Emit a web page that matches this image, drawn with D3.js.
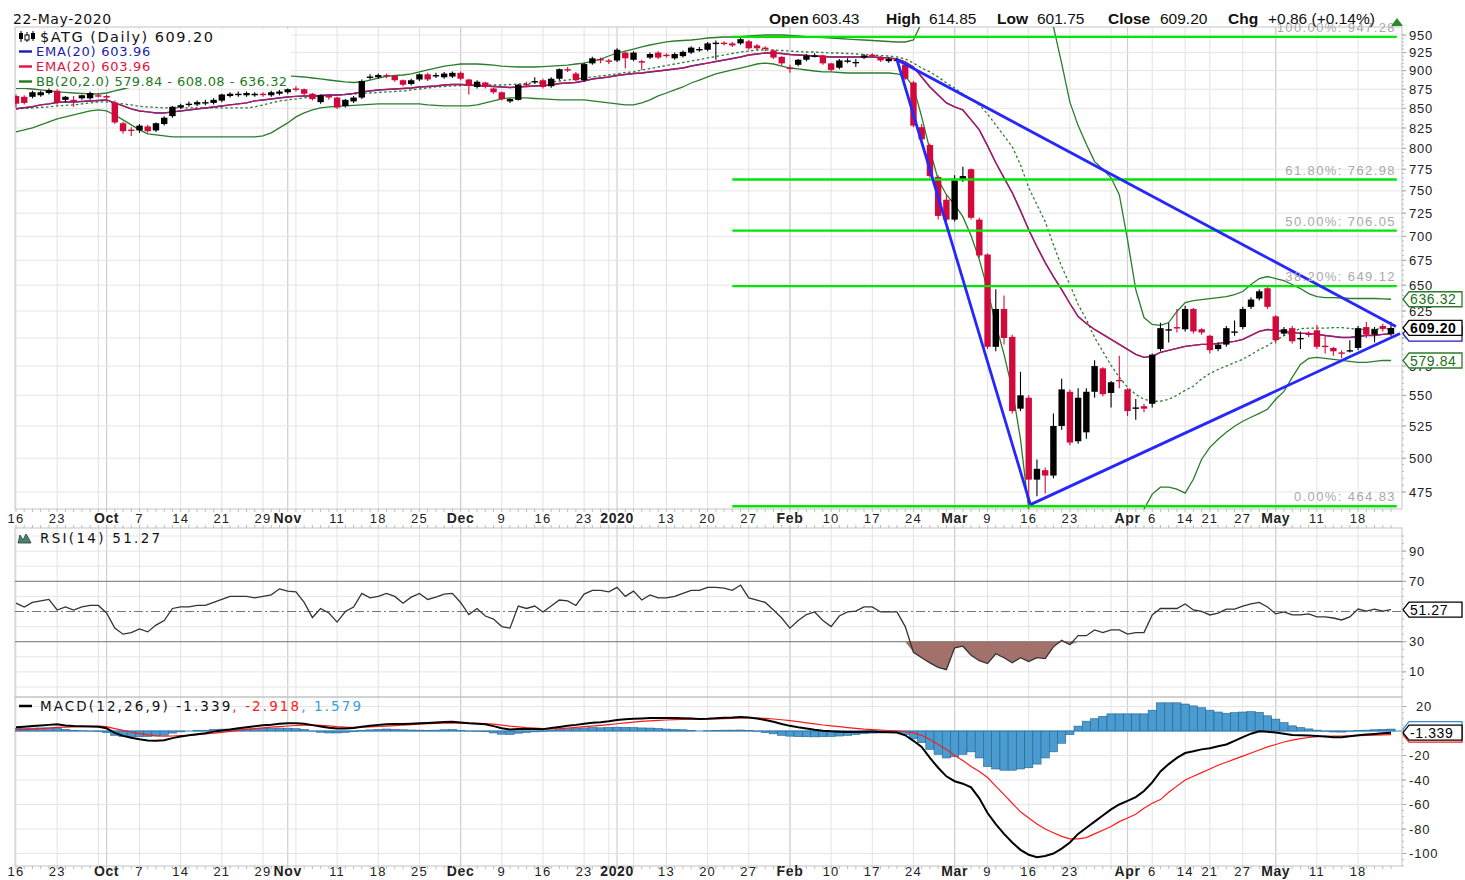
<!DOCTYPE html>
<html><head><meta charset="utf-8">
<script src="https://cdn.jsdelivr.net/npm/d3@7"></script>
<style>body{margin:0;background:#fff}svg{display:block}</style>
</head><body>
<svg id="chart" width="1465" height="880"></svg>
<script>
// ---------------- DATA ----------------
const firstDay = "2019-09-16", lastDay = "2020-05-22";
const holidays = ["2019-10-28","2019-12-25","2019-12-26","2019-12-31","2020-01-01","2020-01-06","2020-03-02","2020-04-10","2020-04-13","2020-04-17","2020-04-20","2020-05-01"];

const tickDates = ["2019-09-16","2019-09-23","2019-10-01","2019-10-07","2019-10-14","2019-10-21","2019-10-29","2019-11-01","2019-11-11","2019-11-18","2019-11-25","2019-12-02","2019-12-09","2019-12-16","2019-12-23","2020-01-02","2020-01-13","2020-01-20","2020-01-27","2020-02-03","2020-02-10","2020-02-17","2020-02-24","2020-03-03","2020-03-09","2020-03-16","2020-03-23","2020-04-01","2020-04-06","2020-04-14","2020-04-21","2020-04-27","2020-05-04","2020-05-11","2020-05-18"];
const tickLabels = ["16","23","Oct","7","14","21","29","Nov","11","18","25","Dec","9","16","23","2020","13","20","27","Feb","10","17","24","Mar","9","16","23","Apr","6","14","21","27","May","11","18"];
const boldLabels = ["Oct","Nov","Dec","2020","Feb","Mar","Apr","May"];

const opens = [866,865,865,867,870,873,861,861,863,863,
867,866,857,831,823,822,827,822,830,840,
851,855,855,857,857,860,866,868,867,867,
869,867,869,871,876,875,869,858,866,864,
853,859,864,891,891,894,893,887,882,888,
895,893,891,892,897,888,878,884,876,871,
859,861,882,885,887,879,889,902,896,887,
910,916,914,914,925,915,913,918,925,922,
917,920,925,929,929,938,939,938,938,941,
935,932,928,919,904,908,915,920,921,910,
904,913,911,918,922,918,913,914,908,884,
826,804,766,740,718,763,775,718,681,592,
627,601,539,548,484,491,487,525,553,513,
520,553,573,552,563,555,539,541,543,590,
607,610,608,627,608,602,590,594,605,610,
629,637,647,620,604,609,599,604,607,593,
591,587,588,591,610,603,611,603.43];
const highs = [868,867,873,873,876,875,866,866,868,872,
870,868,860,833,826,830,829,832,840,853,
856,859,860,861,863,869,871,872,872,871,
871,873,874,876,879,876,870,868,868,865,
862,866,888,895,896,896,894,888,889,896,
897,897,898,899,899,889,887,885,877,872,
863,882,885,891,889,891,903,905,898,911,
919,918,916,931,927,927,915,925,927,924,
925,928,934,933,940,942,941,940,947.28,943,
937,934,929,920,908,916,923,924,922,911,
916,917,916,923,924,920,918,917,910,886,
830,806,768,745,768,778,776,720,682,646,
640,603,570,550,499,493,535,564,555,556,
556,580,574,562,584,556,547,543,586,614,
614,627,630,628,609,603,596,611,616,629,
638,646,648,621,610,611,606,606,612,602,
592,589,598,611,615,610,613,614.85];
const lows = [851,855,863,865,868,855,858,852,861,861,
864,862,830,818,815,819,819,820,828,838,
849,852,853,854,855,858,864,865,865,865,
865,865,867,869,872,867,860,856,861,849,
851,857,862,888,889,890,885,879,880,886,
886,890,889,890,887,868,876,876,869,860,
857,860,878,883,876,877,887,898,885,885,
908,910,909,912,903,913,901,916,916,918,
915,918,923,926,927,915,935,933,936,929,
929,927,916,907,897,906,913,918,908,899,
902,910,905,916,918,912,911,912,887,826,
805,765,718,716,716,760,718,678,590,588,
594,535,537,464.83,472,474,485,522,510,511,
515,548,549,540,556,533,530,536,540,588,
596,605,606,604,603,586,588,592,602,608,
627,635,627,595,602,595,590,601,590,586,
584,582,587,589,600,596,606,601.75];
const closes = [856,857,871,871,874,857,865,860,867,870,
866,864,832,821,822,828,821,831,838,852,
854,856,858,858,861,868,869,869,870,869,
868,871,872,875,875,869,862,867,864,851,
861,864,886,892,894,893,887,881,887,895,
888,894,896,897,889,880,885,878,871,862,
862,881,881,886,878,889,902,901,887,909,
917,915,913,929,917,925,911,923,918,920,
923,926,932,930,938,939,938,935,944,931,
931,930,918,910,903,915,921,921,910,901,
914,914,912,921,921,914,916,915,889,828,
811,767,722,718,762,767,720,680,592,627,
600,537,550,484,492,487,525,555,512,548,
553,575,551,561,562,537,540,539,585,609,
608,609,627,606,605,589,594,609,606,627,
636,644,629,598,608,597,600,603,592,592,
588,586,589,609,603,608,608.34,609.20];

const ema20 = [849.5,850.8,852.1,854.4,855.7,857.6,858.3,858.3,858.9,859.6,
860.2,860.9,857.0,853.1,849.2,846.6,845.4,844.1,844.1,845.4,
846.6,847.9,849.2,850.5,851.8,853.1,854.4,855.7,857.0,859.6,
860.9,862.2,863.5,864.8,865.5,866.1,866.1,866.8,867.4,867.4,
868.1,869.4,871.4,872.7,874.0,874.7,875.3,876.0,876.6,878.0,
878.6,879.3,880.6,881.3,881.3,880.6,879.9,879.3,878.6,878.0,
877.3,878.0,878.6,879.3,879.9,880.6,882.6,883.3,884.0,886.0,
888.7,890.0,891.4,893.4,894.8,896.1,896.8,898.2,899.5,900.9,
902.3,903.6,906.3,908.4,910.4,912.5,914.6,916.7,918.9,921.6,
923.0,924.4,924.4,923.7,922.3,921.6,920.9,920.2,919.5,918.9,
918.9,918.9,918.9,918.9,918.9,918.2,917.4,916.0,911.9,905.0,
891.4,878.0,867.4,857.0,851.8,847.9,835.2,822.7,803.0,782.6,
765.0,747.9,727.8,707.1,689.1,672.7,658.6,645.7,632.2,619.8,
613.3,607.8,603.3,598.7,594.2,589.7,585.2,582.6,583.5,587.0,
588.8,590.6,592.4,593.3,594.2,594.2,595.1,596.0,596.9,598.7,
602.3,606.0,607.8,606.9,606.0,605.1,604.2,604.2,603.3,602.3,
601.4,600.5,600.5,601.4,602.3,602.3,603.3,603.96];

const bbMiddle = [849.2,849.9,850.5,851.2,851.8,853.1,853.8,854.4,855.7,857.0,
858.3,858.3,857.0,855.7,854.4,852.5,851.8,851.2,850.5,850.5,
850.5,850.5,850.5,850.5,850.5,850.5,850.5,850.5,850.5,851.8,
854.4,857.0,859.6,860.9,862.2,863.5,864.8,866.1,866.8,867.4,
868.1,868.7,869.4,870.0,870.7,871.4,872.0,872.7,874.0,875.3,
876.6,878.0,878.6,879.3,879.9,880.6,880.6,880.6,880.6,880.6,
881.3,881.9,882.6,883.3,884.0,884.7,886.0,887.3,888.7,890.0,
891.4,892.8,894.1,895.5,897.5,898.2,900.9,902.9,905.0,907.0,
909.1,911.2,913.2,915.3,917.5,919.5,921.6,923.7,925.8,927.2,
928.6,928.6,928.6,927.9,927.2,926.5,925.8,925.8,925.1,924.4,
924.4,923.7,923.0,922.3,921.6,920.9,920.2,918.9,916.0,910.4,
903.6,898.2,891.4,883.3,876.6,868.7,862.2,854.4,842.8,828.9,
815.3,801.8,780.3,753.6,734.4,715.8,691.2,668.6,650.6,631.2,
617.0,600.5,587.9,575.6,565.2,556.7,550.8,546.7,545.1,545.1,
546.7,550.0,554.2,557.6,564.0,568.5,572.0,575.0,578.0,581.0,
585.0,589.5,593.0,598.0,602.0,605.5,608.5,609.0,609.0,609.0,
609.5,609.6,608.7,607.8,607.8,607.8,608.7,608.08];

const bbUpper = [876.0,876.0,875.3,874.0,872.7,871.4,870.7,870.0,869.4,868.7,
868.7,870.0,872.7,875.3,878.0,880.6,883.3,884.7,886.0,886.6,
887.3,887.3,887.3,887.3,887.3,887.3,888.0,888.7,889.4,890.0,
890.7,891.4,892.1,892.8,892.1,891.4,890.0,888.7,887.3,886.0,
884.7,884.0,884.7,887.3,890.0,892.1,893.4,894.1,895.5,898.2,
900.9,903.6,906.3,907.7,909.1,909.1,909.1,908.4,907.7,906.3,
905.6,905.0,905.0,905.0,905.6,906.3,907.0,907.7,909.1,910.4,
913.2,916.0,920.2,924.4,927.2,930.0,932.9,935.7,937.9,940.0,
941.4,942.1,942.8,944.2,945.7,946.4,947.1,947.1,947.8,948.6,
949.3,950.0,950.0,950.0,949.3,948.6,947.8,947.1,946.4,945.7,
945.0,944.2,943.5,942.8,942.1,941.4,940.7,940.0,940.0,943.0,
968,998,1020,1021,1019,1016,1024,1033,1040,1045,
1045,1049,1046,1044,1027,1003,962,910,858,828,
805,784,775,765,745.6,696.5,645.7,618.9,612.4,611.5,
614.2,624.6,633.1,635.0,636.0,637.0,637.9,638.9,640.8,643.8,
650.7,656.6,658.6,656.6,654.6,650.7,646.7,641.8,638.9,637.9,
637.9,637.5,637.0,637.0,637.0,637.0,636.6,636.32];

const bbLower = [820.2,822.7,825.2,828.9,832.7,836.4,839.0,841.5,844.1,846.6,
847.9,846.6,841.5,835.2,828.9,822.7,817.7,816.5,815.3,814.0,
814.0,814.0,814.0,814.0,814.0,814.0,814.0,814.0,814.0,814.0,
815.3,819.0,825.2,831.4,839.0,844.1,847.9,850.5,851.8,852.5,
853.1,853.8,854.4,855.0,855.7,855.7,855.7,855.7,855.7,855.7,
854.4,853.8,853.1,853.1,853.1,853.1,854.4,857.0,859.6,862.2,
863.5,863.5,863.5,862.8,862.2,861.5,860.9,860.9,860.9,860.9,
859.6,858.3,857.0,855.7,854.4,854.4,857.0,860.9,866.1,870.0,
874.0,878.0,883.3,887.3,891.4,895.5,898.2,900.9,903.6,906.3,
909.1,910.4,909.1,906.3,903.6,902.3,900.9,899.5,898.2,898.2,
897.5,896.8,896.8,896.8,896.8,896.8,896.8,895.5,892.8,878.0,
839.0,798.2,762.7,745.6,734.4,721.2,700.7,675.7,645.7,612.4,
585.2,555.0,514.6,462.8,442,429,420,414,411,411,
414,418,423,429,437,445.3,454.5,462.8,473.5,478.5,
478.5,477.1,474.2,484.3,499.2,508.3,514.6,520.1,524.8,528.8,
532.0,535.2,538.5,546.7,553.3,565.2,576.4,581.7,582.6,581.7,
580.8,579.9,579.0,578.2,578.2,579.0,579.9,579.84];

const rsi14 = [55.6,53,56,57,58,51,53,51,53,54,
54,49,39,35,36,38.5,36.5,41,44,52,
53,53,54,54,56,58,60,60,60,59,
60,61,65,63.5,63,56,46,52,49,43,
50,53,62,59,60,62,60,55.5,59.5,62,
58,59.5,61.5,62,56,48,52,47,45,40,
39,53.6,52,53.6,49.7,53.6,57.6,57,54,61.5,
64,64,63,66,60,63.5,57.6,61,59,59,
60,62,64,64,66,66,65.5,64,67.5,59,
57.6,56,51,45.7,39,44,48,49.7,44,40,
47,49.7,50.3,53,53,49.7,49.7,49.7,40,23,
19.4,16,13,11.5,26,27,21,17.4,15.5,22,
19.4,16,19.4,16.8,19.4,18.8,26.6,31,28,34,
34,37.8,36,37.8,37.8,35,36,36,47.7,52,
52,52,55,51,50,47.7,49,51.6,51.6,53.6,
55,56,53,48.4,49.7,47.7,47.7,48.4,46.4,46.4,
45.7,44.4,46.4,51.6,50.3,51.6,50.3,51.27];

const macdLine = [3.0,3.5,4.0,4.5,5.0,5.5,4.5,4.0,3.8,3.7,
3.5,2.2,-1.5,-4.0,-5.5,-6.8,-7.7,-7.9,-7.6,-5.8,
-4.5,-3.5,-2.7,-1.8,-0.5,0.4,1.2,2.2,3.0,3.8,
4.7,5.2,6.0,6.4,6.4,6.0,4.8,3.6,2.6,2.0,
2.1,2.4,3.5,4.3,5.0,5.6,5.8,5.8,6.0,6.3,
6.6,7.0,7.4,7.6,7.0,6.3,5.9,5.5,4.0,2.2,
1.2,1.6,1.7,1.7,1.5,2.5,3.3,4.2,5.0,6.0,
6.8,7.2,8.0,9.0,9.5,10.0,10.3,10.6,10.6,10.6,
10.6,10.5,10.2,9.8,10.0,10.4,10.8,11.0,11.4,11.0,
10.2,9.0,7.5,5.7,4.2,3.0,2.0,1.0,0.2,-0.3,
-0.6,-0.8,-0.8,-0.6,-0.5,-0.8,-1.0,-1.3,-3.5,-8,
-13,-22,-30,-37,-41,-43,-46,-55,-67,-76,
-84,-91,-97,-101,-103,-102,-100,-96,-91,-84,
-79,-74,-69,-64,-60,-57,-54,-49,-42,-33,
-27,-22,-18,-16.5,-15,-14,-12.5,-11,-8,-5,
-2.2,-0.2,-0.6,-1.3,-2.2,-3.3,-3.4,-3.6,-4.0,-4.5,
-5.0,-5.0,-4.3,-3.4,-2.9,-2.4,-1.9,-1.339];

const macdSignal = [0.8,1.2,1.6,2.0,2.4,3.0,3.2,3.4,3.6,3.8,
4.0,3.5,2.0,0.5,-1.0,-2.2,-3.2,-3.9,-4.2,-4.1,
-3.8,-3.5,-3.0,-2.4,-1.7,-1.1,-0.3,0.5,1.3,2.0,
2.6,3.1,3.6,4.1,4.5,4.8,4.9,4.6,4.2,3.6,
3.2,3.0,3.1,3.4,3.7,4.0,4.4,4.8,5.2,5.6,
6.0,6.3,6.4,6.5,6.5,6.4,6.3,6.1,5.6,4.8,
4.0,3.4,2.8,2.4,2.0,1.8,2.0,2.4,2.9,3.5,
4.0,4.6,5.2,5.9,6.6,7.2,7.8,8.2,8.6,9.0,
9.3,9.5,9.7,9.8,9.8,9.9,10.1,10.3,10.6,10.6,
10.5,10.3,9.8,9.2,8.4,7.6,6.7,5.8,4.9,4.2,
3.5,2.8,2.2,1.6,1.2,0.8,0.4,0.0,-0.6,-1.6,
-3.5,-7,-11,-15,-20,-24,-29,-33,-38,-45,
-52,-59,-66,-71,-76,-80,-83,-86,-88,-88,
-87,-84,-81,-78,-74,-71,-68,-63,-59,-56,
-50,-45,-40,-37,-34,-31,-28,-25.5,-23,-20.5,
-18,-15.5,-13,-11,-9,-7.5,-6.2,-5.3,-4.7,-4.3,
-4.2,-4.1,-4.0,-3.8,-3.6,-3.4,-3.2,-2.918];

const fibPercents = ["100.00%","61.80%","50.00%","38.20%","0.00%"];
const fibValues = [947.28, 762.98, 706.05, 649.12, 464.83];
const fibStartDay = 87;
const fibEndDay = 167.7;
const trendLines = [
  [[107, 915], [123.2, 466]],
  [[107, 915], [167.6, 610.5]],
  [[123.2, 466], [168.1, 604]]
];
const priceTicks = [475,500,525,550,575,600,625,650,675,700,725,750,775,800,825,850,875,900,925,950];
const hiddenPriceLabels = [600];   // covered by the last-close tag in the reference
const rsiTicks = [10,30,70,90];
const macdTicks = [20,-20,-40,-60,-80,-100];

// ---------------- HELPERS ----------------
function tradingDays(a, b, hol) {
  const hs = new Set(hol), out = [];
  const d = new Date(a + "T12:00:00Z"), e = new Date(b + "T12:00:00Z");
  for (; d <= e; d.setUTCDate(d.getUTCDate() + 1)) {
    const wd = d.getUTCDay();
    if (wd === 0 || wd === 6) continue;
    const s = d.toISOString().slice(0, 10);
    if (!hs.has(s)) out.push(s);
  }
  return out;
}
const dates = tradingDays(firstDay, lastDay, holidays);
const n = dates.length;
const idx = Object.fromEntries(dates.map((d, i) => [d, i]));
const hist = macdLine.map((m, i) => m - macdSignal[i]);

// ---------------- LAYOUT ----------------
const svg = d3.select("#chart");
const L = 15, R = 1402;
const P = {top: 27, bottom: 509}, RS = {top: 528, bottom: 697}, MC = {top: 697, bottom: 866};
const x = d3.scaleLinear().domain([0, n - 1]).range([16, 1391]);
const yP = d3.scaleLog().domain([475, 950]).range([492, 35]);
const yR = d3.scaleLinear().domain([0, 100]).range([687, 536]);
const yM = d3.scaleLinear().domain([20, -100]).range([706.5, 853.5]);
const RED = "#d20a3c", BLUE = "#1a1ab0", GREEN = "#2a7d2a", FIB = "#00e600", TREND = "#2626ff";
const SANS = "'Liberation Sans', Arial, sans-serif", VER = "'DejaVu Sans', Verdana, sans-serif";

const defs = svg.append("defs");
[["cm", P], ["cr", RS], ["cmc", MC]].forEach(([id, p]) => {
  defs.append("clipPath").attr("id", id).append("rect")
    .attr("x", L).attr("y", p.top).attr("width", R - L).attr("height", p.bottom - p.top);
});

const weekStarts = [], monthStarts = [];
dates.forEach((d, i) => {
  const dt = new Date(d + "T12:00:00Z");
  if (i === 0) { weekStarts.push(i); return; }
  const prev = new Date(dates[i - 1] + "T12:00:00Z");
  if ((dt - prev) / 864e5 > 1 && (dt.getUTCDay() <= prev.getUTCDay() || (dt - prev) / 864e5 >= 7)) weekStarts.push(i);
  if (dt.getUTCMonth() !== prev.getUTCMonth()) monthStarts.push(i);
});

const grid = svg.append("g");
[P, RS, MC].forEach(p => {
  grid.selectAll(null).data(weekStarts).join("line")
    .attr("x1", i => x(i)).attr("x2", i => x(i)).attr("y1", p.top).attr("y2", p.bottom)
    .attr("stroke", "#e3e3e3").attr("stroke-width", 1);
  grid.selectAll(null).data(monthStarts).join("line")
    .attr("x1", i => x(i)).attr("x2", i => x(i)).attr("y1", p.top).attr("y2", p.bottom)
    .attr("stroke", "#cfcfcf").attr("stroke-width", 1.2);
});
grid.selectAll(null).data(priceTicks).join("line")
  .attr("x1", L).attr("x2", R).attr("y1", d => yP(d)).attr("y2", d => yP(d))
  .attr("stroke", "#e5e5e5");
grid.selectAll(null).data(d3.range(0, 101, 10).filter(v => v !== 30 && v !== 70 && v !== 50)).join("line")
  .attr("x1", L).attr("x2", R).attr("y1", d => yR(d)).attr("y2", d => yR(d)).attr("stroke", "#e5e5e5");
grid.selectAll(null).data([20, -20, -40, -60, -80, -100]).join("line")
  .attr("x1", L).attr("x2", R).attr("y1", d => yM(d)).attr("y2", d => yM(d)).attr("stroke", "#e5e5e5");

[P, RS, MC].forEach(p => svg.append("rect").attr("x", L).attr("y", p.top).attr("width", R - L)
  .attr("height", p.bottom - p.top).attr("fill", "none").attr("stroke", "#c4c4c4"));

// ---------------- MAIN PANEL ----------------
const gm = svg.append("g").attr("clip-path", "url(#cm)");
const lineP = arr => d3.line().x((d, i) => x(i)).y(d => yP(d))(arr);
gm.append("path").attr("d", lineP(bbUpper)).attr("fill", "none").attr("stroke", GREEN).attr("stroke-width", 1.3);
gm.append("path").attr("d", lineP(bbLower)).attr("fill", "none").attr("stroke", GREEN).attr("stroke-width", 1.3);
gm.append("path").attr("d", lineP(bbMiddle)).attr("fill", "none").attr("stroke", GREEN).attr("stroke-width", 1.3).attr("stroke-dasharray", "2.5,2.5");
gm.append("path").attr("d", lineP(ema20)).attr("fill", "none").attr("stroke", BLUE).attr("stroke-width", 1.4);
gm.append("path").attr("d", lineP(ema20)).attr("fill", "none").attr("stroke", "#d0184c").attr("stroke-width", 1.3).attr("opacity", 0.85);

const candles = gm.append("g");
const bw = 6.4;
dates.forEach((d, i) => {
  const o = opens[i], c = closes[i], h = highs[i], l = lows[i];
  const col = c >= o ? "#000" : RED;
  candles.append("line").attr("x1", x(i)).attr("x2", x(i)).attr("y1", yP(h)).attr("y2", yP(l))
    .attr("stroke", col).attr("stroke-width", 1.1);
  const yt = yP(Math.max(o, c)), yb = yP(Math.min(o, c));
  candles.append("rect").attr("x", x(i) - bw / 2).attr("y", yt).attr("width", bw)
    .attr("height", Math.max(1.4, yb - yt)).attr("fill", col);
});

const fibG = svg.append("g").attr("clip-path", "url(#cm)");
fibValues.forEach(v => {
  fibG.append("line").attr("x1", x(fibStartDay)).attr("x2", x(fibEndDay)).attr("y1", yP(v)).attr("y2", yP(v))
    .attr("stroke", FIB).attr("stroke-width", 2.4);
});
trendLines.forEach(seg => {
  svg.append("line").attr("x1", x(seg[0][0])).attr("y1", yP(seg[0][1]))
    .attr("x2", x(seg[1][0])).attr("y2", yP(seg[1][1]))
    .attr("stroke", TREND).attr("stroke-width", 2.8);
});
fibValues.forEach((v, k) => {
  svg.append("text").attr("x", 1396).attr("y", yP(v) - 5).attr("text-anchor", "end")
    .attr("font-family", SANS).attr("font-size", 13).attr("letter-spacing", 1.4)
    .attr("fill", "#a9a9a9").text(fibPercents[k] + ": " + v.toFixed(2));
});

// ---------------- RSI PANEL ----------------
const gr = svg.append("g").attr("clip-path", "url(#cr)");
gr.append("line").attr("x1", L).attr("x2", R).attr("y1", yR(70)).attr("y2", yR(70)).attr("stroke", "#8c8c8c").attr("stroke-width", 1.3);
gr.append("line").attr("x1", L).attr("x2", R).attr("y1", yR(30)).attr("y2", yR(30)).attr("stroke", "#8c8c8c").attr("stroke-width", 1.3);
gr.append("line").attr("x1", L).attr("x2", R).attr("y1", yR(50)).attr("y2", yR(50)).attr("stroke", "#777").attr("stroke-width", 1).attr("stroke-dasharray", "9,3,2,3");
gr.append("path").attr("d", d3.area().x((d, i) => x(i)).y0(yR(30)).y1(d => yR(Math.min(d, 30)))(rsi14))
  .attr("fill", "#a3716b");
gr.append("path").attr("d", d3.line().x((d, i) => x(i)).y(d => yR(d))(rsi14))
  .attr("fill", "none").attr("stroke", "#333").attr("stroke-width", 1.3);

// ---------------- MACD PANEL ----------------
const gc = svg.append("g").attr("clip-path", "url(#cmc)");
const step = x(1) - x(0);
gc.selectAll(null).data(hist).join("rect")
  .attr("x", (d, i) => x(i) - step / 2).attr("width", step)
  .attr("y", d => Math.min(yM(d), yM(0))).attr("height", d => Math.abs(yM(d) - yM(0)))
  .attr("fill", "#4a9bd0").attr("stroke", "#25628f").attr("stroke-width", 0.6);
gc.append("line").attr("x1", L).attr("x2", R).attr("y1", yM(0)).attr("y2", yM(0)).attr("stroke", "#3b86bd").attr("stroke-width", 1);
gc.append("path").attr("d", d3.line().x((d, i) => x(i)).y(d => yM(d))(macdSignal))
  .attr("fill", "none").attr("stroke", "#ff1a1a").attr("stroke-width", 1.2);
gc.append("path").attr("d", d3.line().x((d, i) => x(i)).y(d => yM(d))(macdLine))
  .attr("fill", "none").attr("stroke", "#000").attr("stroke-width", 2);

// ---------------- AXES ----------------
function xAxisLabels(yBase) {
  const g = svg.append("g");
  tickDates.forEach((d, k) => {
    const lab = tickLabels[k], b = boldLabels.includes(lab);
    g.append("text").attr("x", x(idx[d])).attr("y", yBase).attr("text-anchor", "middle")
      .attr("font-family", SANS).attr("font-size", b ? 14 : 13).attr("font-weight", b ? "bold" : "normal")
      .attr("letter-spacing", b ? 0.6 : 1.2).attr("fill", "#222").text(lab);
  });
}
xAxisLabels(523);
xAxisLabels(876);
[[P.bottom, 3], [RS.top, -3], [MC.bottom, 3]].forEach(([yy, dy]) => {
  svg.append("g").selectAll("line").data(dates).join("line")
    .attr("x1", (d, i) => x(i)).attr("x2", (d, i) => x(i)).attr("y1", yy).attr("y2", yy + dy)
    .attr("stroke", "#bdbdbd");
});

const ax = svg.append("g").attr("font-family", SANS).attr("font-size", 13).attr("fill", "#222").attr("letter-spacing", 0.8);
priceTicks.forEach(v => {
  ax.append("line").attr("x1", R).attr("x2", R + 4).attr("y1", yP(v)).attr("y2", yP(v)).attr("stroke", "#999");
  if (!hiddenPriceLabels.includes(v)) ax.append("text").attr("x", 1409).attr("y", yP(v) + 4.5).text(v);
});
rsiTicks.forEach(v => {
  ax.append("line").attr("x1", R).attr("x2", R + 4).attr("y1", yR(v)).attr("y2", yR(v)).attr("stroke", "#999");
  ax.append("text").attr("x", 1409).attr("y", yR(v) + 4.5).text(v);
});
macdTicks.forEach(v => {
  ax.append("line").attr("x1", R).attr("x2", R + 4).attr("y1", yM(v)).attr("y2", yM(v)).attr("stroke", "#999");
  ax.append("text").attr("x", v === 20 ? 1416 : 1409).attr("y", yM(v) + 4.5).text(v);
});
d3.range(475, 951, 5).forEach(v => ax.append("line").attr("x1", R).attr("x2", R + 2).attr("y1", yP(v)).attr("y2", yP(v)).attr("stroke", "#bbb"));
d3.range(0, 101, 5).forEach(v => ax.append("line").attr("x1", R).attr("x2", R + 2).attr("y1", yR(v)).attr("y2", yR(v)).attr("stroke", "#bbb"));
d3.range(-110, 25, 5).forEach(v => ax.append("line").attr("x1", R).attr("x2", R + 2).attr("y1", yM(v)).attr("y2", yM(v)).attr("stroke", "#bbb"));

function tag(yy, txt, color, bold, showText) {
  const h = 15, x0 = R + 1, x1 = R + 7, x2 = 1462;
  svg.append("path").attr("d", `M${x0},${yy} L${x1},${yy - h / 2} L${x2},${yy - h / 2} L${x2},${yy + h / 2} L${x1},${yy + h / 2} Z`)
    .attr("fill", "#fff").attr("stroke", color).attr("stroke-width", 1.3);
  if (showText) svg.append("text").attr("x", R + 8).attr("y", yy + 5).attr("font-family", SANS).attr("font-size", 14)
    .attr("font-weight", bold ? "bold" : "normal").attr("letter-spacing", 0.6).attr("fill", color === GREEN ? "#1e6e1e" : "#000").text(txt);
}
const last = n - 1;
tag(yP(ema20[last]), ema20[last].toFixed(2), BLUE, false, false);
tag(yP(bbUpper[last]), bbUpper[last].toFixed(2), GREEN, false, true);
tag(yP(bbLower[last]), bbLower[last].toFixed(2), GREEN, false, true);
tag(yP(closes[last]), closes[last].toFixed(2), "#000", true, true);
tag(yR(rsi14[last]), rsi14[last].toFixed(2), "#000", false, true);
tag(yM(hist[last]), hist[last].toFixed(3), "#3a8fd0", false, false);
tag(yM(macdSignal[last]), macdSignal[last].toFixed(3), "#ff1a1a", false, false);
tag(yM(macdLine[last]), macdLine[last].toFixed(3), "#000", false, true);

// ---------------- HEADER / LEGENDS ----------------
svg.append("text").attr("x", 13).attr("y", 24).attr("font-family", VER).attr("font-size", 14)
  .attr("letter-spacing", 0.6).attr("fill", "#111").text("22-May-2020");
const hdr = [["Open", 769, true], [opens[last].toFixed(2), 812, false], ["High", 886, true], [highs[last].toFixed(2), 929, false],
  ["Low", 997, true], [lows[last].toFixed(2), 1037, false], ["Close", 1108, true], [closes[last].toFixed(2), 1160, false],
  ["Chg", 1228, true], ["+0.86 (+0.14%)", 1268, false]];
hdr.forEach(([t, xx, b]) => svg.append("text").attr("x", xx).attr("y", 24).attr("font-family", SANS)
  .attr("font-size", 15.5).attr("font-weight", b ? "bold" : "normal").attr("fill", "#111").text(t));
svg.append("path").attr("d", "M1391,26 L1397,18 L1403,26 Z").attr("fill", "#2a8a2a");

svg.append("rect").attr("x", L + 1).attr("y", 29).attr("width", 275).attr("height", 59).attr("fill", "#fff");
const lg = svg.append("g").attr("font-family", VER);
lg.append("line").attr("x1", 21).attr("x2", 21).attr("y1", 31).attr("y2", 42).attr("stroke", "#000");
lg.append("rect").attr("x", 19).attr("y", 33).attr("width", 4).attr("height", 6).attr("fill", "#000");
lg.append("line").attr("x1", 27).attr("x2", 27).attr("y1", 32).attr("y2", 42).attr("stroke", "#000");
lg.append("rect").attr("x", 25).attr("y", 35).attr("width", 4).attr("height", 5).attr("fill", "#fff").attr("stroke", "#000");
lg.append("line").attr("x1", 33).attr("x2", 33).attr("y1", 31).attr("y2", 41).attr("stroke", "#000");
lg.append("rect").attr("x", 31).attr("y", 33).attr("width", 4).attr("height", 6).attr("fill", "#000");
lg.append("text").attr("x", 40).attr("y", 42).attr("font-size", 14.5).attr("letter-spacing", 1.5).attr("fill", "#111")
  .text("$ATG (Daily) " + closes[last].toFixed(2));
const legRows = [["EMA(20) " + ema20[last].toFixed(2), "#1b1bb0", 56], ["EMA(20) " + ema20[last].toFixed(2), "#e0103e", 71],
  ["BB(20,2.0) " + bbLower[last].toFixed(2) + " - " + bbMiddle[last].toFixed(2) + " - " + bbUpper[last].toFixed(2), "#1f7a1f", 86]];
legRows.forEach(([t, c, yy], k) => {
  lg.append("line").attr("x1", 19).attr("x2", 32).attr("y1", yy - 4.5).attr("y2", yy - 4.5).attr("stroke", c).attr("stroke-width", 2.4);
  lg.append("text").attr("x", 36).attr("y", yy).attr("font-size", 13).attr("letter-spacing", k === 2 ? 0.45 : 0.75).attr("fill", c).text(t);
});
lg.append("path").attr("d", "M18,543 L20,535 L23,540 L26,534 L29,539 L31,543 Z").attr("fill", "#4f8272").attr("stroke", "#1e3e34").attr("stroke-width", 0.8);
lg.append("text").attr("x", 40).attr("y", 543).attr("font-size", 13.5).attr("letter-spacing", 2.3).attr("fill", "#111")
  .text("RSI(14) " + rsi14[last].toFixed(2));
lg.append("line").attr("x1", 19).attr("x2", 32).attr("y1", 706).attr("y2", 706).attr("stroke", "#000").attr("stroke-width", 2.5);
const mt = lg.append("text").attr("x", 40).attr("y", 711).attr("font-size", 13.5).attr("letter-spacing", 2.1);
mt.append("tspan").attr("fill", "#111").text("MACD(12,26,9) " + macdLine[last].toFixed(3));
mt.append("tspan").attr("fill", "#ff1a1a").text(", " + macdSignal[last].toFixed(3));
mt.append("tspan").attr("fill", "#3aa0dc").text(", " + hist[last].toFixed(3));
</script>
</body></html>
